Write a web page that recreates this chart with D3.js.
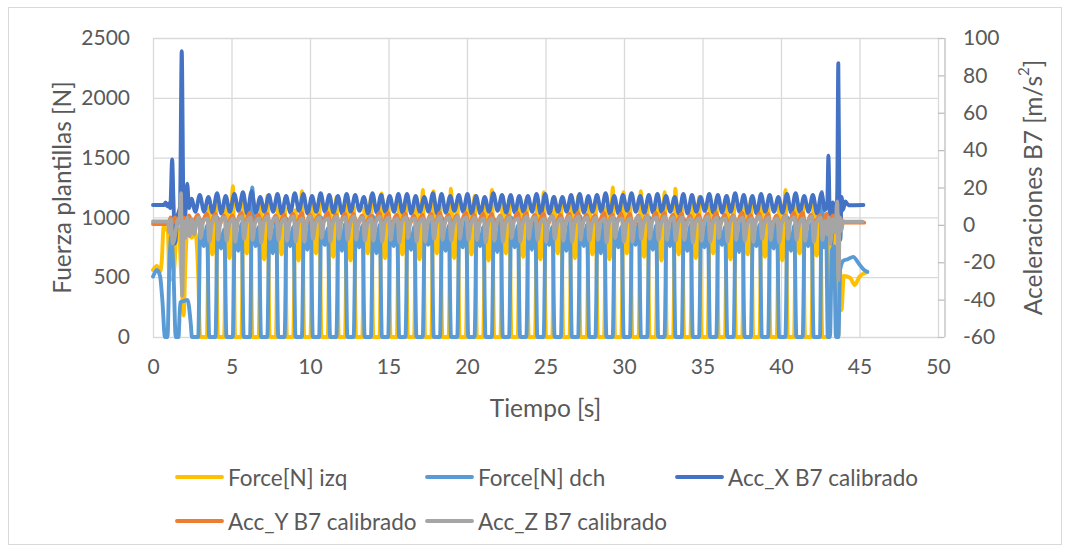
<!DOCTYPE html>
<html>
<head>
<meta charset="utf-8">
<script src="https://cdn.jsdelivr.net/npm/d3@7"></script>
<style>
  body { margin: 0; background: #ffffff; }
  svg text { font-family: Lato, "Open Sans", sans-serif; fill: #595959; }
</style>
</head>
<body>
<svg id="chart" width="1070" height="552"></svg>
<script>
// ---- axis ticks ----
const timeTicks = [0, 5, 10, 15, 20, 25, 30, 35, 40, 45, 50];
const forceTicks = [0, 500, 1000, 1500, 2000, 2500];
const accTicks = [-60, -40, -20, 0, 20, 40, 60, 80, 100];

// ---- series ----
const seriesNames = ["Force[N] izq", "Force[N] dch", "Acc_X B7 calibrado", "Acc_Y B7 calibrado", "Acc_Z B7 calibrado"];
const seriesColors = ["#FFC000", "#5B9BD5", "#4472C4", "#ED7D31", "#A5A5A5"];

// left insole force [s, N]
const forceIzq = [
  [0,560],[0.25,595],[0.45,545],[0.56,640],[0.68,925],[0.85,900],[0.95,880],[1.03,500],[1.25,480],[1.38,620],
  [1.5,880],[1.65,900],[1.76,620],[1.85,380],[1.95,180],[2.07,640],[2.2,925],[2.45,830],[2.7,870],[2.88,520],[3.0,0],
  [3.43,0],[3.57,1080],[3.78,690],[3.99,1150],[4.13,0],
  [4.53,0],[4.67,1120],[4.88,660],[5.09,1260],[5.23,0],
  [5.63,0],[5.77,1150],[5.98,700],[6.19,1100],[6.33,0],
  [6.73,0],[6.87,1100],[7.08,650],[7.29,1180],[7.43,0],
  [7.83,0],[7.97,1180],[8.18,690],[8.39,1080],[8.53,0],
  [8.93,0],[9.07,1060],[9.28,640],[9.49,1220],[9.63,0],
  [10.03,0],[10.17,1150],[10.38,700],[10.59,1120],[10.73,0],
  [11.13,0],[11.27,1100],[11.48,670],[11.69,1170],[11.83,0],
  [12.23,0],[12.37,1190],[12.58,640],[12.79,1090],[12.93,0],
  [13.33,0],[13.47,1080],[13.68,700],[13.89,1180],[14.03,0],
  [14.43,0],[14.57,1200],[14.78,660],[14.99,1120],[15.13,0],
  [15.53,0],[15.67,1120],[15.88,690],[16.09,1150],[16.23,0],
  [16.63,0],[16.77,1100],[16.98,650],[17.19,1230],[17.33,0],
  [17.73,0],[17.87,1220],[18.08,700],[18.29,1100],[18.43,0],
  [18.83,0],[18.97,1240],[19.18,660],[19.39,1130],[19.53,0],
  [19.93,0],[20.07,1120],[20.28,690],[20.49,1180],[20.63,0],
  [21.03,0],[21.17,1100],[21.38,640],[21.59,1230],[21.73,0],
  [22.13,0],[22.27,1180],[22.48,700],[22.69,1120],[22.83,0],
  [23.23,0],[23.37,1130],[23.58,670],[23.79,1150],[23.93,0],
  [24.33,0],[24.47,1100],[24.68,650],[24.89,1210],[25.03,0],
  [25.43,0],[25.57,1170],[25.78,700],[25.99,1120],[26.13,0],
  [26.53,0],[26.67,1120],[26.88,660],[27.09,1180],[27.23,0],
  [27.63,0],[27.77,1150],[27.98,690],[28.19,1110],[28.33,0],
  [28.73,0],[28.87,1090],[29.08,650],[29.29,1250],[29.43,0],
  [29.83,0],[29.97,1210],[30.18,700],[30.39,1120],[30.53,0],
  [30.93,0],[31.07,1220],[31.28,670],[31.49,1100],[31.63,0],
  [32.03,0],[32.17,1100],[32.38,640],[32.59,1210],[32.73,0],
  [33.13,0],[33.27,1240],[33.48,690],[33.69,1120],[33.83,0],
  [34.23,0],[34.37,1130],[34.58,660],[34.79,1170],[34.93,0],
  [35.33,0],[35.47,1100],[35.68,700],[35.89,1150],[36.03,0],
  [36.43,0],[36.57,1180],[36.78,650],[36.99,1120],[37.13,0],
  [37.53,0],[37.67,1120],[37.88,690],[38.09,1160],[38.23,0],
  [38.63,0],[38.77,1150],[38.98,670],[39.19,1100],[39.33,0],
  [39.73,0],[39.87,1090],[40.08,640],[40.29,1230],[40.43,0],
  [40.83,0],[40.97,1160],[41.18,700],[41.39,1120],[41.53,0],
  [41.93,0],[42.07,1120],[42.28,680],[42.49,1150],[42.63,0],
  [43.0,0],[43.12,850],[43.3,950],[43.45,600],[43.55,0],[43.65,0],[43.73,650],[43.85,225],
  [44.0,510],[44.4,495],[44.7,435],[45.0,505],[45.45,540]
];

// right insole force [s, N]
const forceDch = [
  [0,505],[0.25,560],[0.45,510],[0.6,300],[0.76,0],[0.92,0],[1.05,620],[1.17,850],[1.3,560],[1.45,0],
  [1.62,0],[1.74,290],[1.95,300],[2.2,310],[2.4,120],[2.48,0],
  [2.88,0],[3.02,980],[3.23,760],[3.44,930],[3.58,0],
  [3.98,0],[4.12,1000],[4.33,740],[4.54,900],[4.68,0],
  [5.08,0],[5.22,960],[5.43,720],[5.64,950],[5.78,0],
  [6.18,0],[6.32,1250],[6.53,760],[6.74,920],[6.88,0],
  [7.28,0],[7.42,940],[7.63,700],[7.84,960],[7.98,0],
  [8.38,0],[8.52,990],[8.73,760],[8.94,920],[9.08,0],
  [9.48,0],[9.62,950],[9.83,730],[10.04,980],[10.18,0],
  [10.58,0],[10.72,1000],[10.93,770],[11.14,910],[11.28,0],
  [11.68,0],[11.82,960],[12.03,720],[12.24,950],[12.38,0],
  [12.78,0],[12.92,980],[13.13,750],[13.34,930],[13.48,0],
  [13.88,0],[14.02,1010],[14.23,700],[14.44,940],[14.58,0],
  [14.98,0],[15.12,950],[15.33,760],[15.54,990],[15.68,0],
  [16.08,0],[16.22,990],[16.43,730],[16.64,920],[16.78,0],
  [17.18,0],[17.32,960],[17.53,770],[17.74,960],[17.88,0],
  [18.28,0],[18.42,1000],[18.63,720],[18.84,930],[18.98,0],
  [19.38,0],[19.52,970],[19.73,750],[19.94,980],[20.08,0],
  [20.48,0],[20.62,940],[20.83,760],[21.04,920],[21.18,0],
  [21.58,0],[21.72,990],[21.93,710],[22.14,960],[22.28,0],
  [22.68,0],[22.82,1000],[23.03,750],[23.24,930],[23.38,0],
  [23.78,0],[23.92,960],[24.13,730],[24.34,990],[24.48,0],
  [24.88,0],[25.02,980],[25.23,770],[25.44,920],[25.58,0],
  [25.98,0],[26.12,950],[26.33,720],[26.54,960],[26.68,0],
  [27.08,0],[27.22,1010],[27.43,760],[27.64,940],[27.78,0],
  [28.18,0],[28.32,970],[28.53,700],[28.74,980],[28.88,0],
  [29.28,0],[29.42,990],[29.63,750],[29.84,920],[29.98,0],
  [30.38,0],[30.52,960],[30.73,770],[30.94,950],[31.08,0],
  [31.48,0],[31.62,1000],[31.83,730],[32.04,930],[32.18,0],
  [32.58,0],[32.72,950],[32.93,760],[33.14,970],[33.28,0],
  [33.68,0],[33.82,990],[34.03,720],[34.24,940],[34.38,0],
  [34.78,0],[34.92,970],[35.13,750],[35.34,960],[35.48,0],
  [35.88,0],[36.02,1000],[36.23,770],[36.44,920],[36.58,0],
  [36.98,0],[37.12,960],[37.33,710],[37.54,980],[37.68,0],
  [38.08,0],[38.22,980],[38.43,760],[38.64,940],[38.78,0],
  [39.18,0],[39.32,950],[39.53,740],[39.74,970],[39.88,0],
  [40.28,0],[40.42,1000],[40.63,720],[40.84,930],[40.98,0],
  [41.38,0],[41.52,970],[41.73,760],[41.94,950],[42.08,0],
  [42.48,0],[42.6,1212],[42.75,750],[42.88,860],[42.98,0],[43.12,0],[43.24,720],[43.38,760],[43.5,0],[43.66,0],
  [43.76,560],[44.0,640],[44.25,650],[44.6,670],[44.95,615],[45.3,560],[45.5,545]
];

// B7 accelerations [s, m/s2]
const accX = [
  [0,10.6],[0.7,10.6],[0.8,12],[0.9,10],[1.0,11.5],[1.1,9],[1.22,35],[1.3,14],[1.4,-10],[1.55,4],
  [1.72,10],[1.83,93],[1.93,15],[2.0,0],[2.08,8],[2.18,22],[2.3,9],[2.45,14],[2.7,7],
  [2.98,16],[3.25,7],[3.53,15],[3.80,6.5],
  [4.08,17],[4.35,6],[4.63,15.5],[4.90,7],
  [5.18,16.5],[5.45,7.5],[5.73,17.5],[6.00,6],
  [6.28,18],[6.55,6.5],[6.83,15],[7.10,7],
  [7.38,16],[7.65,7],[7.93,16.5],[8.20,6],
  [8.48,15.5],[8.75,6.5],[9.03,17],[9.30,7.5],
  [9.58,16.5],[9.85,6],[10.13,15.5],[10.40,7],
  [10.68,17],[10.95,7],[11.23,16],[11.50,6.5],
  [11.78,15.5],[12.05,6],[12.33,16.5],[12.60,7],
  [12.88,16],[13.15,7.5],[13.43,15],[13.70,6],
  [13.98,17],[14.25,6.5],[14.53,16],[14.80,7],
  [15.08,15.5],[15.35,7],[15.63,16.5],[15.90,6.5],
  [16.18,16.5],[16.45,6],[16.73,15.5],[17.00,7],
  [17.28,15],[17.55,7],[17.83,17],[18.10,6],
  [18.38,16.5],[18.65,6.5],[18.93,15.5],[19.20,7.5],
  [19.48,16],[19.75,7],[20.03,16.5],[20.30,6],
  [20.58,15.5],[20.85,6],[21.13,15],[21.40,7],
  [21.68,17],[21.95,7.5],[22.23,16],[22.50,6.5],
  [22.78,16],[23.05,6.5],[23.33,15.5],[23.60,7],
  [23.88,15.5],[24.15,7],[24.43,16.5],[24.70,6],
  [24.98,16.5],[25.25,6],[25.53,15],[25.80,7],
  [26.08,15],[26.35,7],[26.63,16],[26.90,6.5],
  [27.18,16.5],[27.45,6.5],[27.73,15.5],[28.00,7],
  [28.28,16],[28.55,7],[28.83,17],[29.10,6],
  [29.38,15.5],[29.65,6],[29.93,16],[30.20,7.5],
  [30.48,17],[30.75,7],[31.03,15.5],[31.30,6.5],
  [31.58,16],[31.85,6.5],[32.13,16.5],[32.40,7],
  [32.68,15.5],[32.95,7],[33.23,15],[33.50,6],
  [33.78,16.5],[34.05,6],[34.33,16],[34.60,7],
  [34.88,15],[35.15,7.5],[35.43,16.5],[35.70,6.5],
  [35.98,16],[36.25,6.5],[36.53,15.5],[36.80,7],
  [37.08,17],[37.35,7],[37.63,16],[37.90,6],
  [38.18,15.5],[38.45,6],[38.73,16.5],[39.00,7],
  [39.28,16],[39.55,7],[39.83,15],[40.10,6.5],
  [40.38,16.5],[40.65,6.5],[40.93,17],[41.20,7],
  [41.48,15.5],[41.75,7],[42.03,16],[42.30,6],
  [42.58,17],[42.8,8],[42.95,12],[43.02,37],[43.1,5],[43.2,-10],[43.3,12],[43.4,7],[43.5,3],[43.58,16],
  [43.65,86.5],[43.72,10],[43.78,-8],[43.86,15],[43.95,8],[44.1,12.5],[44.3,10.5],[45.25,10.6]
];

const accY = [
  [0,0.5],[1.0,0.5],[1.12,4],[1.25,1],[1.4,4],[1.55,1],[1.75,5],[1.85,-4],[1.95,4],[2.1,1],[2.3,5],[2.5,0],[2.68,3],
  [2.86,5.5],[3.08,0],[3.41,6],[3.63,-1],
  [3.96,6],[4.18,-1],[4.51,5],[4.73,0],
  [5.06,5],[5.28,0.5],[5.61,6.5],[5.83,-0.5],
  [6.16,6.5],[6.38,-0.5],[6.71,5.5],[6.93,0.5],
  [7.26,6],[7.48,-1],[7.81,5],[8.03,0],
  [8.36,5.5],[8.58,0],[8.91,6],[9.13,-1],
  [9.46,6.5],[9.68,-0.5],[10.01,5.5],[10.23,0.5],
  [10.56,5],[10.78,0.5],[11.11,6.5],[11.33,-0.5],
  [11.66,5.5],[11.88,0],[12.21,6],[12.43,-1],
  [12.76,6],[12.98,-1],[13.31,5],[13.53,0],
  [13.86,5],[14.08,0.5],[14.41,6.5],[14.63,-0.5],
  [14.96,6.5],[15.18,-0.5],[15.51,5.5],[15.73,0.5],
  [16.06,6],[16.28,-1],[16.61,5],[16.83,0],
  [17.16,5.5],[17.38,0],[17.71,6],[17.93,-1],
  [18.26,6.5],[18.48,-0.5],[18.81,5.5],[19.03,0.5],
  [19.36,5],[19.58,0.5],[19.91,6.5],[20.13,-0.5],
  [20.46,5.5],[20.68,0],[21.01,6],[21.23,-1],
  [21.56,6],[21.78,-1],[22.11,5],[22.33,0],
  [22.66,5],[22.88,0.5],[23.21,6.5],[23.43,-0.5],
  [23.76,6.5],[23.98,-0.5],[24.31,5.5],[24.53,0.5],
  [24.86,6],[25.08,-1],[25.41,5],[25.63,0],
  [25.96,5.5],[26.18,0],[26.51,6],[26.73,-1],
  [27.06,6.5],[27.28,-0.5],[27.61,5.5],[27.83,0.5],
  [28.16,5],[28.38,0.5],[28.71,6.5],[28.93,-0.5],
  [29.26,5.5],[29.48,0],[29.81,6],[30.03,-1],
  [30.36,6],[30.58,-1],[30.91,5],[31.13,0],
  [31.46,5],[31.68,0.5],[32.01,6.5],[32.23,-0.5],
  [32.56,6.5],[32.78,-0.5],[33.11,5.5],[33.33,0.5],
  [33.66,6],[33.88,-1],[34.21,5],[34.43,0],
  [34.76,5.5],[34.98,0],[35.31,6],[35.53,-1],
  [35.86,6.5],[36.08,-0.5],[36.41,5.5],[36.63,0.5],
  [36.96,5],[37.18,0.5],[37.51,6.5],[37.73,-0.5],
  [38.06,5.5],[38.28,0],[38.61,6],[38.83,-1],
  [39.16,6],[39.38,-1],[39.71,5],[39.93,0],
  [40.26,5],[40.48,0.5],[40.81,6.5],[41.03,-0.5],
  [41.36,6.5],[41.58,-0.5],[41.91,5.5],[42.13,0.5],
  [42.46,5],[42.7,0],[42.9,6],[43.1,-2],[43.3,5],[43.5,0],[43.62,6],[43.7,-3],[43.8,3],[43.95,1.2],[45.3,1.2]
];

const accZ = [
  [0,1.8],[0.95,1.8],[1.05,-4],[1.15,3],[1.25,-10],[1.4,-6],[1.55,2],[1.7,4],[1.78,17],[1.86,-38],
  [1.95,2],[2.05,-7],[2.18,4],[2.32,-6],[2.48,3],[2.62,-5],[2.78,2],
  [2.92,4],[3.04,-7],[3.20,2],[3.47,3.5],[3.59,-9],[3.75,1],
  [4.02,4.5],[4.14,-8],[4.30,1.5],[4.57,4],[4.69,-8.5],[4.85,0.5],
  [5.12,3.5],[5.24,-9],[5.40,2],[5.67,4.5],[5.79,-7.5],[5.95,1],
  [6.22,4],[6.34,-8],[6.50,1],[6.77,3.5],[6.89,-9.5],[7.05,1.5],
  [7.32,4.5],[7.44,-7.5],[7.60,2],[7.87,4],[7.99,-8],[8.15,0.5],
  [8.42,3.5],[8.54,-8.5],[8.70,1.5],[8.97,4.5],[9.09,-9],[9.25,1],
  [9.52,3.5],[9.64,-9],[9.80,2],[10.07,4.5],[10.19,-7.5],[10.35,1],
  [10.62,4],[10.74,-7],[10.90,2],[11.17,3.5],[11.29,-9],[11.45,1],
  [11.72,4.5],[11.84,-7.5],[12.00,2],[12.27,4],[12.39,-8],[12.55,0.5],
  [12.82,4.5],[12.94,-8],[13.10,1.5],[13.37,4],[13.49,-8.5],[13.65,0.5],
  [13.92,3.5],[14.04,-8.5],[14.20,1.5],[14.47,4.5],[14.59,-9],[14.75,1],
  [15.02,4],[15.14,-8],[15.30,1],[15.57,3.5],[15.69,-9.5],[15.85,1.5],
  [16.12,4],[16.24,-7],[16.40,2],[16.67,3.5],[16.79,-9],[16.95,1],
  [17.22,3.5],[17.34,-9],[17.50,2],[17.77,4.5],[17.89,-7.5],[18.05,1],
  [18.32,4.5],[18.44,-8],[18.60,1.5],[18.87,4],[18.99,-8.5],[19.15,0.5],
  [19.42,4.5],[19.54,-7.5],[19.70,2],[19.97,4],[20.09,-8],[20.25,0.5],
  [20.52,4],[20.64,-8],[20.80,1],[21.07,3.5],[21.19,-9.5],[21.35,1.5],
  [21.62,3.5],[21.74,-8.5],[21.90,1.5],[22.17,4.5],[22.29,-9],[22.45,1],
  [22.72,4],[22.84,-7],[23.00,2],[23.27,3.5],[23.39,-9],[23.55,1],
  [23.82,4.5],[23.94,-7.5],[24.10,2],[24.37,4],[24.49,-8],[24.65,0.5],
  [24.92,3.5],[25.04,-9],[25.20,2],[25.47,4.5],[25.59,-7.5],[25.75,1],
  [26.02,3.5],[26.14,-8.5],[26.30,1.5],[26.57,4.5],[26.69,-9],[26.85,1],
  [27.12,4.5],[27.24,-8],[27.40,1.5],[27.67,4],[27.79,-8.5],[27.95,0.5],
  [28.22,4],[28.34,-8],[28.50,1],[28.77,3.5],[28.89,-9.5],[29.05,1.5],
  [29.32,4],[29.44,-7],[29.60,2],[29.87,3.5],[29.99,-9],[30.15,1],
  [30.42,3.5],[30.54,-9],[30.70,2],[30.97,4.5],[31.09,-7.5],[31.25,1],
  [31.52,4.5],[31.64,-7.5],[31.80,2],[32.07,4],[32.19,-8],[32.35,0.5],
  [32.62,4.5],[32.74,-8],[32.90,1.5],[33.17,4],[33.29,-8.5],[33.45,0.5],
  [33.72,4],[33.84,-8],[34.00,1],[34.27,3.5],[34.39,-9.5],[34.55,1.5],
  [34.82,3.5],[34.94,-8.5],[35.10,1.5],[35.37,4.5],[35.49,-9],[35.65,1],
  [35.92,4],[36.04,-7],[36.20,2],[36.47,3.5],[36.59,-9],[36.75,1],
  [37.02,4.5],[37.14,-8],[37.30,1.5],[37.57,4],[37.69,-8.5],[37.85,0.5],
  [38.12,3.5],[38.24,-9],[38.40,2],[38.67,4.5],[38.79,-7.5],[38.95,1],
  [39.22,4],[39.34,-8],[39.50,1],[39.77,3.5],[39.89,-9.5],[40.05,1.5],
  [40.32,4.5],[40.44,-7.5],[40.60,2],[40.87,4],[40.99,-8],[41.15,0.5],
  [41.42,3.5],[41.54,-8.5],[41.70,1.5],[41.97,4.5],[42.09,-9],[42.25,1],
  [42.52,4],[42.64,-8],[42.8,2],[42.95,-5],[43.05,4],[43.15,-10],[43.3,3],[43.45,-4],[43.58,12.5],[43.66,-29.5],
  [43.75,4],[43.85,-3],[43.95,2],[44.1,1.7],[45.2,1.7]
];

// ---- layout ----
const svg = d3.select("#chart");
const plot = { left: 153, right: 938, top: 38, bottom: 337 };
const gridColor = "#d9d9d9";
const tickFont = 21;
const titleFont = 24.5;
const legendFont = 22.5;

svg.append("rect")
  .attr("x", 8.5).attr("y", 7.5).attr("width", 1053).attr("height", 537)
  .attr("fill", "#ffffff").attr("stroke", gridColor).attr("stroke-width", 1);

const x = d3.scaleLinear().domain([0, 50]).range([plot.left, plot.right]);
const yForce = d3.scaleLinear().domain([0, 2500]).range([plot.bottom, plot.top]);
const yAcc = d3.scaleLinear().domain([-60, 100]).range([plot.bottom, plot.top]);

// gridlines
svg.append("g")
  .attr("transform", `translate(0,${plot.bottom})`)
  .call(d3.axisBottom(x).tickValues(timeTicks).tickSize(-(plot.bottom - plot.top)).tickFormat(""))
  .call(g => g.select(".domain").remove())
  .call(g => g.selectAll(".tick line").attr("stroke", gridColor).attr("stroke-width", 1.3));

svg.append("g")
  .attr("transform", `translate(${plot.left},0)`)
  .call(d3.axisLeft(yForce).tickValues(forceTicks).tickSize(-(plot.right - plot.left)).tickFormat(""))
  .call(g => g.select(".domain").remove())
  .call(g => g.selectAll(".tick line").attr("stroke", gridColor).attr("stroke-width", 1.3));

// tick labels
const styleText = size => g => g.selectAll("text")
  .attr("font-size", size).attr("fill", "#595959")
  .style("font-family", "Lato, 'Open Sans', sans-serif");

svg.append("g")
  .attr("transform", `translate(0,${plot.bottom})`)
  .call(d3.axisBottom(x).tickValues(timeTicks).tickSize(0).tickPadding(22).tickFormat(d => String(d)))
  .call(g => g.select(".domain").remove())
  .call(styleText(tickFont));

svg.append("g")
  .attr("transform", `translate(${plot.left},0)`)
  .call(d3.axisLeft(yForce).tickValues(forceTicks).tickSize(0).tickPadding(23).tickFormat(d => String(d)))
  .call(g => g.select(".domain").remove())
  .call(styleText(tickFont));

// secondary axis: line just right of the plot, ticks pointing back toward it
const accAxisX = plot.right + 6.5;
svg.append("g")
  .attr("transform", `translate(${accAxisX},0)`)
  .call(d3.axisLeft(yAcc).tickValues(accTicks).tickSize(6.5).tickFormat(""))
  .call(g => g.select(".domain").attr("stroke", "#bfbfbf").attr("stroke-width", 1.3).attr("d", `M0.5,${plot.top}V${plot.bottom}`))
  .call(g => g.selectAll(".tick line").attr("stroke", "#bfbfbf").attr("stroke-width", 1.3));

svg.append("g")
  .attr("transform", `translate(${plot.right},0)`)
  .call(d3.axisRight(yAcc).tickValues(accTicks).tickSize(0).tickPadding(25).tickFormat(d => String(d)))
  .call(g => g.select(".domain").remove())
  .call(styleText(tickFont));

// axis titles
svg.append("text")
  .attr("transform", `translate(61,${(plot.top + plot.bottom) / 2}) rotate(-90)`)
  .attr("text-anchor", "middle").attr("dominant-baseline", "central")
  .attr("font-size", titleFont)
  .text("Fuerza plantillas [N]");

const rightTitle = svg.append("text")
  .attr("transform", `translate(1032,${(plot.top + plot.bottom) / 2}) rotate(-90)`)
  .attr("text-anchor", "middle").attr("dominant-baseline", "central")
  .attr("font-size", titleFont);
rightTitle.append("tspan").text("Aceleraciones B7 [m/s");
rightTitle.append("tspan").attr("font-size", 15).attr("dy", -9).text("2");
rightTitle.append("tspan").attr("dy", 9).text("]");

svg.append("text")
  .attr("x", (plot.left + plot.right) / 2).attr("y", 407)
  .attr("text-anchor", "middle").attr("dominant-baseline", "central")
  .attr("font-size", titleFont)
  .text("Tiempo [s]");

// ---- series lines ----
const lineForce = d3.line().x(d => x(d[0])).y(d => yForce(d[1])).curve(d3.curveMonotoneX);
const lineAcc = d3.line().x(d => x(d[0])).y(d => yAcc(d[1])).curve(d3.curveMonotoneX);

const seriesData = [
  { data: forceIzq, line: lineForce },
  { data: forceDch, line: lineForce },
  { data: accX, line: lineAcc },
  { data: accY, line: lineAcc },
  { data: accZ, line: lineAcc }
];

svg.append("g")
  .selectAll("path")
  .data(seriesData)
  .join("path")
  .attr("d", d => d.line(d.data))
  .attr("fill", "none")
  .attr("stroke", (d, i) => seriesColors[i])
  .attr("stroke-width", 3.9)
  .attr("stroke-linejoin", "round")
  .attr("stroke-linecap", "round");

// ---- legend ----
const legendPos = [[177, 477], [427, 477], [677, 477], [177, 521], [427, 521]];
const legend = svg.append("g")
  .selectAll("g")
  .data(seriesNames)
  .join("g")
  .attr("transform", (d, i) => `translate(${legendPos[i][0]},${legendPos[i][1]})`);
legend.append("line")
  .attr("x1", 0).attr("x2", 45).attr("y1", 0).attr("y2", 0)
  .attr("stroke", (d, i) => seriesColors[i]).attr("stroke-width", 3.9)
  .attr("stroke-linecap", "round");
legend.append("text")
  .attr("x", 51).attr("y", 0)
  .attr("dominant-baseline", "central")
  .attr("font-size", legendFont)
  .text(d => d);
</script>
</body>
</html>
